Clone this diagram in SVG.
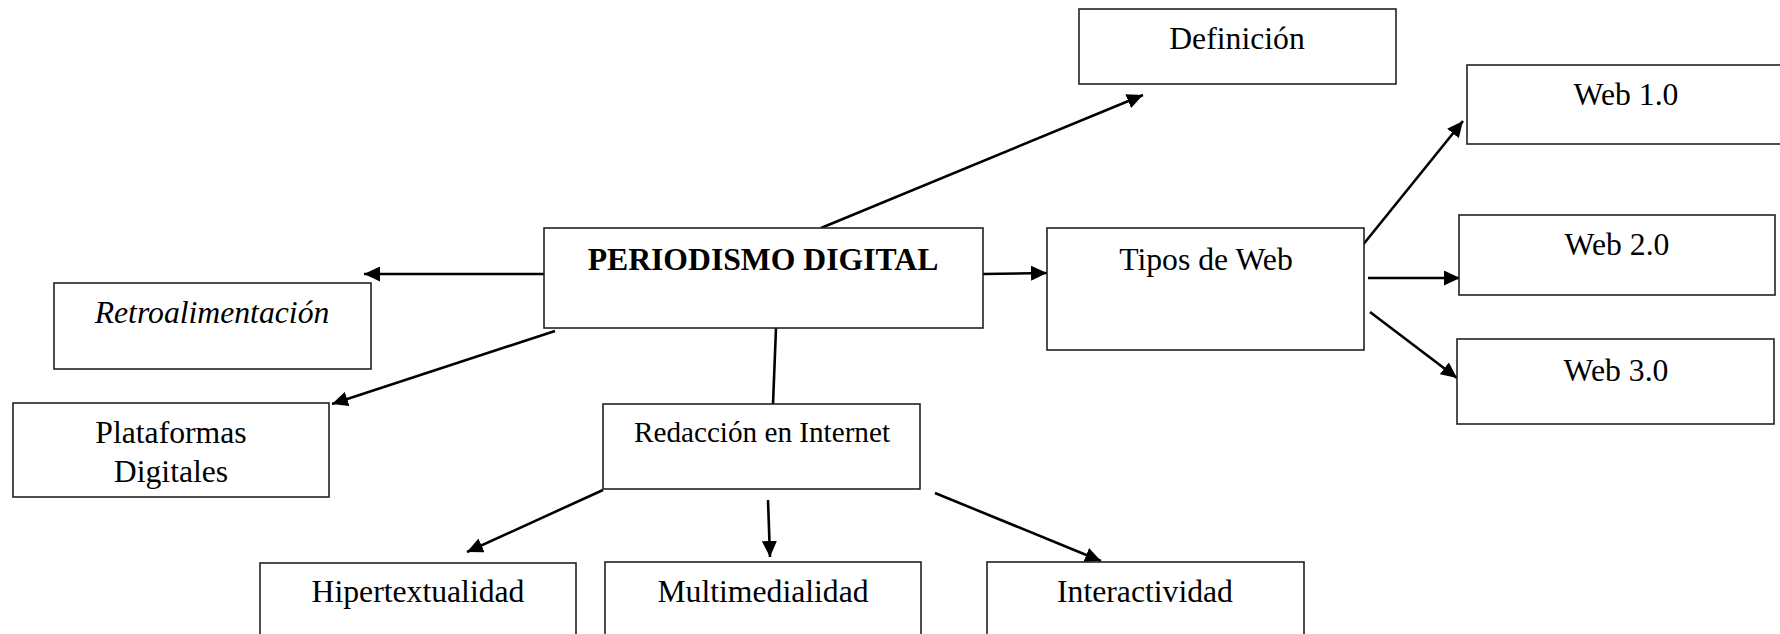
<svg xmlns="http://www.w3.org/2000/svg" width="1780" height="634" viewBox="0 0 1780 634">
<style>
  .box { fill: #ffffff; stroke: #222222; stroke-width: 1.6; }
  .t { font-family: "Liberation Serif", "Times New Roman", serif; font-size: 31.7px; fill: #000000; text-anchor: middle; }
  .b { font-weight: bold; }
  .i { font-style: italic; }
  .c { stroke: #000000; stroke-width: 2.6; fill: none; }
</style>
<defs>
  <marker id="ah" markerUnits="userSpaceOnUse" markerWidth="17" markerHeight="15" refX="16" refY="7.5" orient="auto">
    <path d="M0,0 L16,7.5 L0,15 z" fill="#000000"/>
  </marker>
</defs>
<rect width="1780" height="634" fill="#ffffff"/>

<g id="connectors">
  <line class="c" x1="821" y1="228" x2="1143" y2="95" marker-end="url(#ah)"/>
  <line class="c" x1="545" y1="274" x2="364" y2="274" marker-end="url(#ah)"/>
  <line class="c" x1="555" y1="331" x2="332" y2="404" marker-end="url(#ah)"/>
  <line class="c" x1="776" y1="328" x2="773" y2="404"/>
  <line class="c" x1="983" y1="274" x2="1047" y2="273" marker-end="url(#ah)"/>
  <line class="c" x1="1362" y1="246" x2="1463" y2="121" marker-end="url(#ah)"/>
  <line class="c" x1="1368" y1="278" x2="1460" y2="278" marker-end="url(#ah)"/>
  <line class="c" x1="1370" y1="312" x2="1457" y2="378" marker-end="url(#ah)"/>
  <line class="c" x1="603" y1="490" x2="467" y2="552" marker-end="url(#ah)"/>
  <line class="c" x1="768" y1="500" x2="770" y2="557" marker-end="url(#ah)"/>
  <line class="c" x1="935" y1="493" x2="1101" y2="561" marker-end="url(#ah)"/>
</g>

<g id="definicion">
  <rect class="box" x="1079" y="9" width="317" height="75"/>
  <text class="t" x="1237" y="49">Definición</text>
</g>
<g id="periodismo-digital">
  <rect class="box" x="544" y="228" width="439" height="100"/>
  <text class="t b" x="763" y="270">PERIODISMO DIGITAL</text>
</g>
<g id="retroalimentacion">
  <rect class="box" x="54" y="283" width="317" height="86"/>
  <text class="t i" x="212" y="323">Retroalimentación</text>
</g>
<g id="plataformas-digitales">
  <rect class="box" x="13" y="403" width="316" height="94"/>
  <text class="t" x="171" y="443">Plataformas</text>
  <text class="t" x="171" y="482">Digitales</text>
</g>
<g id="redaccion-internet">
  <rect class="box" x="603" y="404" width="317" height="85"/>
  <text class="t" x="762" y="442" style="font-size:29.2px">Redacción en Internet</text>
</g>
<g id="tipos-de-web">
  <rect class="box" x="1047" y="228" width="317" height="122"/>
  <text class="t" x="1206" y="270">Tipos de Web</text>
</g>
<g id="web-1">
  <rect class="box" x="1467" y="65" width="317" height="79"/>
  <text class="t" x="1626" y="105">Web 1.0</text>
</g>
<g id="web-2">
  <rect class="box" x="1459" y="215" width="316" height="80"/>
  <text class="t" x="1617" y="255">Web 2.0</text>
</g>
<g id="web-3">
  <rect class="box" x="1457" y="339" width="317" height="85"/>
  <text class="t" x="1616" y="381">Web 3.0</text>
</g>
<g id="hipertextualidad">
  <rect class="box" x="260" y="563" width="316" height="90"/>
  <text class="t" x="418" y="602">Hipertextualidad</text>
</g>
<g id="multimedialidad">
  <rect class="box" x="605" y="562" width="316" height="90"/>
  <text class="t" x="763" y="602">Multimedialidad</text>
</g>
<g id="interactividad">
  <rect class="box" x="987" y="562" width="317" height="90"/>
  <text class="t" x="1145" y="602">Interactividad</text>
</g>
</svg>
